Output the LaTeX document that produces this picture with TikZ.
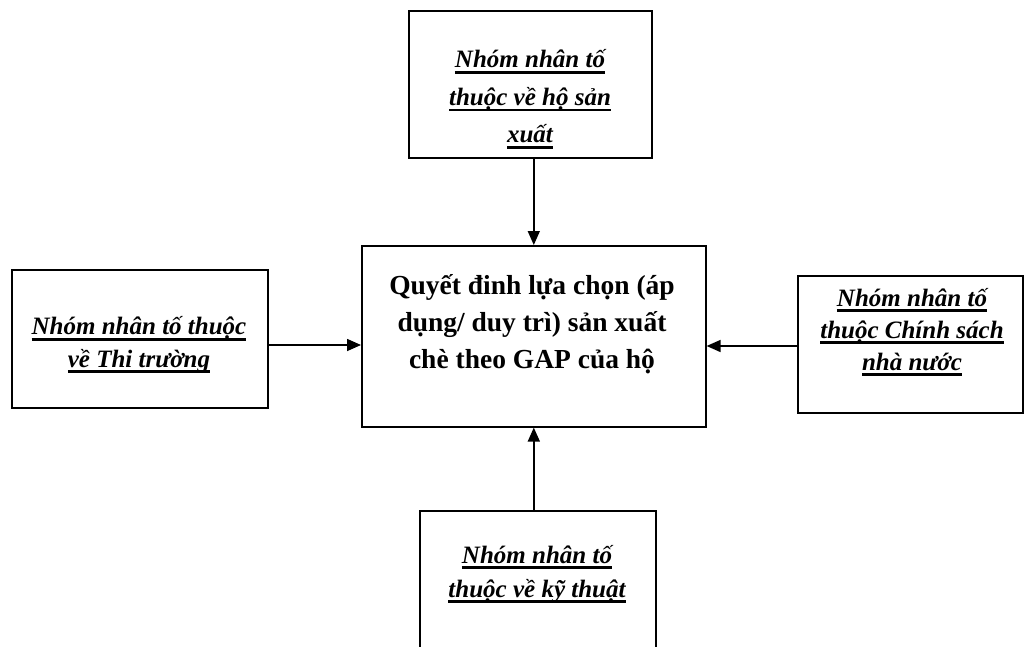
\documentclass[tikz,border=0pt]{standalone}
\usepackage{fontspec}
\setmainfont{Liberation Serif}
\usetikzlibrary{arrows.meta}
\newcommand\ulx[1]{\setbox0=\hbox{#1}\rlap{\rule[-6pt]{\wd0}{2.8pt}}\box0}
\tikzset{
  box/.style={draw, line width=1.6pt, inner sep=0pt, anchor=north west},
  lbl/.style={align=center, inner sep=0pt, anchor=base, font=\bfseries\itshape\fontsize{25}{#1}\selectfont},
  mainlbl/.style={align=center, inner sep=0pt, anchor=base, font=\bfseries\fontsize{27.5}{37}\selectfont},
  arr/.style={line width=1.6pt, -{Triangle[length=14pt,width=12pt]}}
}
\begin{document}
\begin{tikzpicture}[x=1pt,y=-1pt]
\useasboundingbox (0,0) rectangle (1024,647);
\node[box, minimum width=243pt, minimum height=147pt] (top) at (408,10) {};
\node[box, minimum width=344pt, minimum height=181pt] (mid) at (361,245) {};
\node[box, minimum width=256pt, minimum height=138pt] (lft) at (11,269) {};
\node[box, minimum width=225pt, minimum height=137pt] (rgt) at (797,275) {};
\node[box, minimum width=236pt, minimum height=170pt] (bot) at (419,510) {};

\node[lbl=37.5] (ttop) at (530,143) {\ulx{Nhóm nhân tố}\\\ulx{thuộc về hộ sản}\\\ulx{xuất}};
\node[mainlbl] (tmid) at (532,368) {Quyết đinh lựa chọn (áp\\dụng/ duy trì) sản xuất\\chè theo GAP của hộ};
\node[lbl=32.5] (tlft) at (139,367) {\ulx{Nhóm nhân tố thuộc}\\\ulx{về Thi trường}};
\node[lbl=32] (trgt) at (912,370) {\ulx{Nhóm nhân tố}\\\ulx{thuộc Chính sách}\\\ulx{nhà nước}};
\node[lbl=34] (tbot) at (537,597) {\ulx{Nhóm nhân tố}\\\ulx{thuộc về kỹ thuật}};

\coordinate (ly) at (0,345);
\coordinate (ry) at (0,346);
\draw[arr] (mid.north |- top.south) -- (mid.north);
\draw[arr] (mid.south |- bot.north) -- (mid.south);
\draw[arr] (lft.east |- ly) -- (mid.west |- ly);
\draw[arr] (rgt.west |- ry) -- (mid.east |- ry);
\end{tikzpicture}
\end{document}
